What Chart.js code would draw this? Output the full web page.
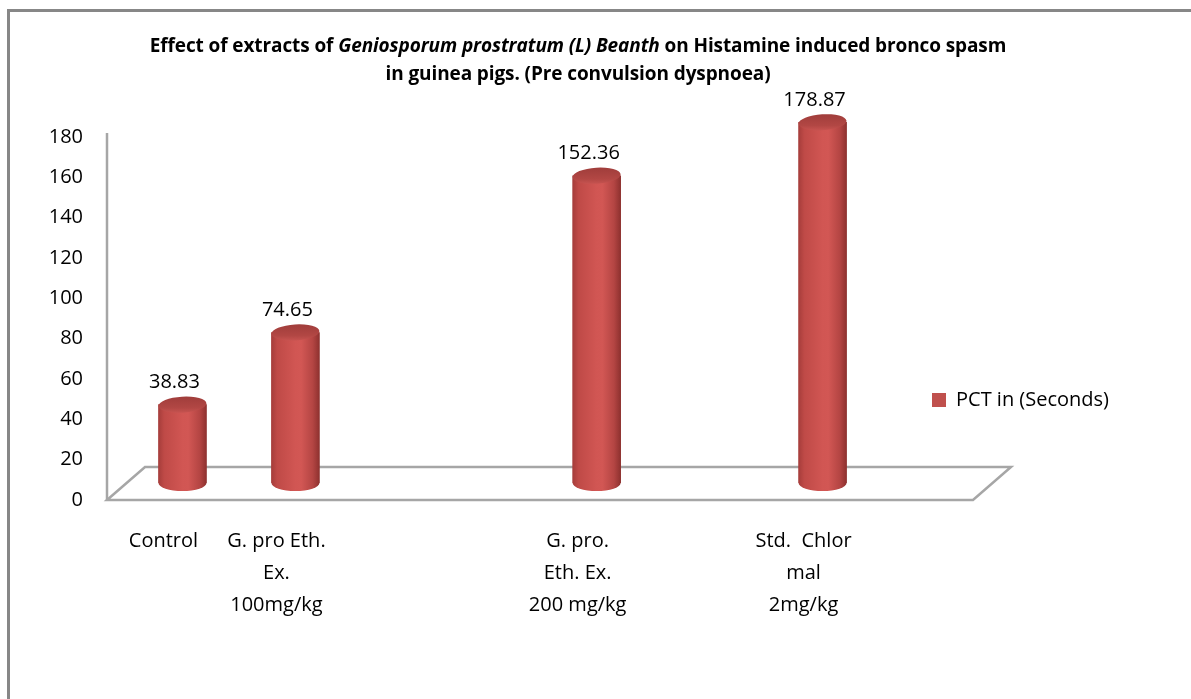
<!DOCTYPE html>
<html>
<head>
<meta charset="utf-8">
<script src="https://cdn.jsdelivr.net/npm/chart.js@4.4.1/dist/chart.umd.min.js"></script>
<style>
  html, body { margin: 0; padding: 0; background: #ffffff; }
  #wrap { position: relative; width: 1191px; height: 699px; overflow: hidden; }
  #c { position: absolute; left: 0; top: 0; }
  #title {
    position: absolute; left: 0; top: 31px; width: 1156px;
    text-align: center; font-family: 'Open Sans', sans-serif; font-weight: bold;
    font-size: 19px; line-height: 28px; color: #000; letter-spacing: -0.1px;
  }
</style>
</head>
<body>
<div id="wrap">
  <canvas id="c" width="1191" height="699"></canvas>
  <div id="title">Effect of extracts of <i>Geniosporum prostratum (L) Beanth</i> on Histamine induced bronco spasm<br>in guinea pigs. (Pre convulsion dyspnoea)</div>
</div>
<script>
// ---------------- DATA ----------------
const categories = ['Control', 'G. pro Eth. Ex. 100mg/kg', 'G. pro. Eth. Ex. 200 mg/kg', 'Std.  Chlor mal 2mg/kg'];
const categoryLines = [
  ['Control'],
  ['G. pro Eth.', 'Ex.', '100mg/kg'],
  ['G. pro.', 'Eth. Ex.', '200 mg/kg'],
  ['Std.  Chlor', 'mal', '2mg/kg']
];
const pctSeconds = [38.83, 74.65, 152.36, 178.87];
const valueLabels = ['38.83', '74.65', '152.36', '178.87'];
const seriesName = 'PCT in (Seconds)';
const yTickValues = [0, 20, 40, 60, 80, 100, 120, 140, 160, 180];

// ---------------- LAYOUT ----------------
// the reference spaces its categories unevenly along the floor; we reproduce it
// with a finer category grid where only some slots hold a category
const SLOT_COUNT = 23;
const SLOT_OF = [1, 4, 12, 18];
const slotLabels = Array(SLOT_COUNT).fill('');
const slotValues = Array(SLOT_COUNT).fill(null);
const slotText = Array(SLOT_COUNT).fill(null);
SLOT_OF.forEach((s, i) => { slotLabels[s] = categoryLines[i]; slotValues[s] = pctSeconds[i]; slotText[s] = valueLabels[i]; });

const FONT = "'Open Sans', sans-serif";
const RED = '#C0504D';
const BAR_W = 48;
const RY = 8;
const DEPTH_X = 19, DEPTH_Y = 17;   // half depth of the 3D floor

function bodyGradient(ctx, cx, w) {
  const g = ctx.createLinearGradient(cx - w / 2, 0, cx + w / 2, 0);
  g.addColorStop(0, '#a63d3b');
  g.addColorStop(0.12, '#bf4a47');
  g.addColorStop(0.5, '#d15653');
  g.addColorStop(0.62, '#d25754');
  g.addColorStop(0.86, '#b44543');
  g.addColorStop(1, '#8e312f');
  return g;
}

const cylinder3d = {
  id: 'cylinder3d',
  afterLayout(chart) {
    const lg = chart.legend;
    if (!lg) return;
    const w = lg.width, h = lg.height;
    lg.left = 922; lg.right = 922 + w;
    lg.top = 380; lg.bottom = 380 + h;
  },
  beforeDraw(chart) {
    const ctx = chart.ctx;
    ctx.save();
    ctx.fillStyle = '#ffffff';
    ctx.fillRect(0, 0, chart.width, chart.height);
    ctx.strokeStyle = '#878787';
    ctx.lineWidth = 3;
    ctx.strokeRect(8.5, 10.5, chart.width + 20, chart.height + 20);
    ctx.restore();
  },
  beforeDatasetsDraw(chart) {
    const ctx = chart.ctx;
    const xs = chart.scales.x, ys = chart.scales.y;
    const y0 = ys.getPixelForValue(0);
    const yTop = ys.getPixelForValue(yTickValues[yTickValues.length - 1]);
    ctx.save();
    ctx.strokeStyle = '#a6a6a6';
    ctx.lineWidth = 2.5;
    ctx.lineJoin = 'miter';
    ctx.beginPath();
    ctx.moveTo(xs.left - DEPTH_X, yTop + DEPTH_Y - 4);
    ctx.lineTo(xs.left - DEPTH_X, y0 + DEPTH_Y);
    ctx.stroke();
    ctx.beginPath();
    ctx.moveTo(xs.left - DEPTH_X, y0 + DEPTH_Y);
    ctx.lineTo(xs.left + DEPTH_X, y0 - DEPTH_Y + 1);
    ctx.lineTo(xs.right + DEPTH_X, y0 - DEPTH_Y + 1);
    ctx.lineTo(xs.right - DEPTH_X, y0 + DEPTH_Y);
    ctx.closePath();
    ctx.stroke();
    ctx.restore();
  },
  afterDatasetsDraw(chart) {
    const ctx = chart.ctx;
    const meta = chart.getDatasetMeta(0);
    ctx.save();
    meta.data.forEach((el, i) => {
      if (slotValues[i] === null) return;
      const p = el.getProps(['x', 'y', 'base', 'width'], true);
      const rx = p.width / 2;
      ctx.beginPath();
      ctx.ellipse(p.x, p.base, rx, RY, 0, 0, Math.PI);
      ctx.closePath();
      ctx.fillStyle = bodyGradient(ctx, p.x, p.width);
      ctx.fill();
      const tg = ctx.createLinearGradient(0, p.y - RY, 0, p.y + RY);
      tg.addColorStop(0, '#a03d3b');
      tg.addColorStop(0.7, '#b24744');
      tg.addColorStop(1, '#c65350');
      ctx.beginPath();
      ctx.ellipse(p.x, p.y, rx, RY, -0.06, 0, Math.PI * 2);
      ctx.fillStyle = tg;
      ctx.fill();
      ctx.fillStyle = '#000';
      ctx.font = '20px ' + FONT;
      ctx.textAlign = 'center';
      ctx.textBaseline = 'middle';
      ctx.fillText(slotText[i], p.x - 8, p.y - RY - 14);
    });
    ctx.restore();
  }
};

new Chart(document.getElementById('c'), {
  type: 'bar',
  data: {
    labels: slotLabels,
    datasets: [{
      label: seriesName,
      data: slotValues,
      barThickness: BAR_W,
      borderWidth: 0,
      backgroundColor: (c) => {
        if (c.type !== 'data') return RED;
        const xs = c.chart.scales && c.chart.scales.x;
        if (!xs || !isFinite(xs.getPixelForValue(c.dataIndex))) return RED;
        return bodyGradient(c.chart.ctx, xs.getPixelForValue(c.dataIndex), BAR_W);
      }
    }]
  },
  options: {
    responsive: false,
    animation: false,
    events: [],
    layout: { padding: { top: 120, left: 48, right: 199, bottom: 0 } },
    plugins: {
      title: { display: false },
      tooltip: { enabled: false },
      legend: {
        display: true,
        position: 'chartArea',
        align: 'start',
        labels: {
          boxWidth: 14, boxHeight: 14, padding: 10,
          color: '#000',
          font: { family: FONT, size: 20 },
          generateLabels: (chart) => Chart.defaults.plugins.legend.labels.generateLabels(chart)
            .map(l => Object.assign(l, { fillStyle: RED, strokeStyle: RED, lineWidth: 0 }))
        }
      }
    },
    scales: {
      x: {
        type: 'category',
        offset: true,
        grid: { display: false, drawTicks: false },
        border: { display: false },
        ticks: {
          autoSkip: false, maxRotation: 0, minRotation: 0,
          padding: 42, labelOffset: -19,
          color: '#000',
          font: { family: FONT, size: 20, lineHeight: 1.6 }
        },
        afterFit: (s) => { s.height = 216; }
      },
      y: {
        min: 0, max: 180,
        grid: { display: false, drawTicks: false },
        border: { display: false },
        afterBuildTicks: (s) => { s.ticks = yTickValues.map(v => ({ value: v })); },
        ticks: {
          padding: 43, labelOffset: 17,
          color: '#000',
          font: { family: FONT, size: 20 }
        },
        afterFit: (s) => { s.width = 78; }
      }
    }
  },
  plugins: [cylinder3d]
});
</script>
</body>
</html>
